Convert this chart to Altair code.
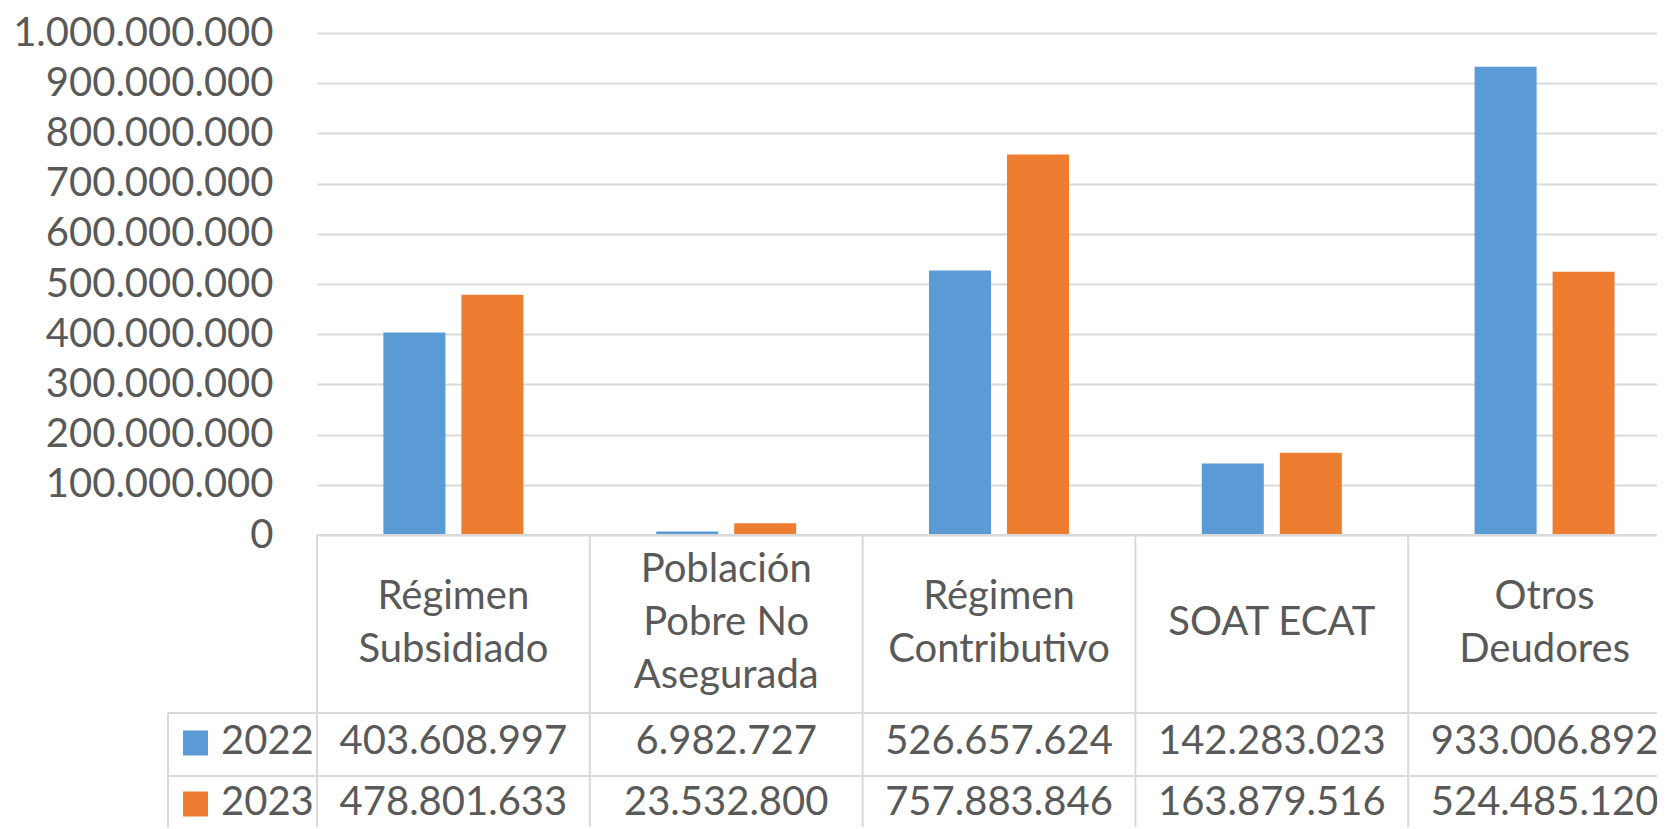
import altair as alt
import pandas as pd

# ---------------- data ----------------
categories = ["Régimen Subsidiado", "Población Pobre No Asegurada",
              "Régimen Contributivo", "SOAT ECAT", "Otros Deudores"]
header_labels = ["Régimen\nSubsidiado", "Población\nPobre No\nAsegurada",
                 "Régimen\nContributivo", "SOAT ECAT", "Otros\nDeudores"]
years = ["2022", "2023"]
values_2022 = [403608997, 6982727, 526657624, 142283023, 933006892]
values_2023 = [478801633, 23532800, 757883846, 163879516, 524485120]
y_ticks = [0, 100000000, 200000000, 300000000, 400000000, 500000000,
           600000000, 700000000, 800000000, 900000000, 1000000000]
colors = ["#5B9BD5", "#ED7D31"]


def fmt(v):
    return f"{v:,}".replace(",", ".")


rows = []
for year, vals in zip(years, [values_2022, values_2023]):
    for c, v in zip(categories, vals):
        rows.append({"categoria": c, "anio": year, "valor": v, "texto": fmt(v)})
df = pd.DataFrame(rows)
hdr = pd.DataFrame({"categoria": categories, "encabezado": header_labels})
hdr["lineas"] = hdr["encabezado"].str.count("\n") + 1
one = pd.DataFrame({"k": [0]})

# ---------------- layout / style ----------------
W, H = 1340, 502
BAND_SPAN = 1364
HEADER_BOTTOM = 680
ROW1_BOTTOM = 743
TABLE_BOTTOM = 794
LEGEND_LEFT = -149
HEADER_Y = 590
LINE_H = 53
ROW_Y = {"2022": 709, "2023": 770}
SWATCH_X = -121.5
LEG_TEXT_X = -96
FONT = "Lato"
GRAY = "#595959"
LINE = "#d9d9d9"
FS = 40

x_scale = alt.Scale(domain=categories, range=[0, BAND_SPAN],
                    paddingInner=0, paddingOuter=0)
color_scale = alt.Scale(domain=years, range=colors)

label_expr = ("replace(replace(replace(format(datum.value, ','), ',', '.'), "
              "',', '.'), ',', '.')")

bars = alt.Chart(df).mark_bar().encode(
    x=alt.X("categoria:N", scale=x_scale, axis=None),
    xOffset=alt.XOffset("anio:N", scale=alt.Scale(domain=years,
                                                   paddingInner=0.205,
                                                   paddingOuter=0.851)),
    y=alt.Y("valor:Q", scale=alt.Scale(domain=[0, 1000000000], nice=False),
            axis=alt.Axis(values=y_ticks, labelExpr=label_expr,
                          labelFont=FONT, labelFontSize=FS, labelColor=GRAY,
                          labelPadding=44, labelLimit=0, domain=False,
                          ticks=False, gridColor=LINE, gridWidth=2,
                          title=None, labelOverlap=False)),
    color=alt.Color("anio:N", scale=color_scale, legend=None),
)

v_rules = alt.Chart(hdr).mark_rule(color=LINE, strokeWidth=2).encode(
    x=alt.X("categoria:N", scale=x_scale, axis=None, bandPosition=0),
    y=alt.value(H),
    y2=alt.value(TABLE_BOTTOM),
)

layers = [bars, v_rules]

layers.append(alt.Chart(one).mark_rule(color=LINE, strokeWidth=2).encode(
    x=alt.value(LEGEND_LEFT), y=alt.value(HEADER_BOTTOM), y2=alt.value(TABLE_BOTTOM)))
layers.append(alt.Chart(one).mark_rule(color=LINE, strokeWidth=2).encode(
    x=alt.value(0), x2=alt.value(W), y=alt.value(H)))
for yy in [HEADER_BOTTOM, ROW1_BOTTOM]:
    layers.append(alt.Chart(one).mark_rule(color=LINE, strokeWidth=2).encode(
        x=alt.value(LEGEND_LEFT), x2=alt.value(W), y=alt.value(yy)))

# header labels, vertically centred in the header row (grouped by line count)
for n in sorted(hdr["lineas"].unique()):
    sub = hdr[hdr["lineas"] == n]
    layers.append(alt.Chart(sub).mark_text(
        font=FONT, fontSize=FS, color=GRAY, lineBreak="\n", lineHeight=LINE_H,
        baseline="middle", align="center").encode(
        x=alt.X("categoria:N", scale=x_scale, axis=None),
        y=alt.value(HEADER_Y - (n - 1) * LINE_H / 2),
        text="encabezado:N",
    ))

for year, col in zip(years, colors):
    sub = df[df["anio"] == year]
    layers.append(alt.Chart(sub).mark_text(
        font=FONT, fontSize=FS, color=GRAY, baseline="middle", align="center").encode(
        x=alt.X("categoria:N", scale=x_scale, axis=None),
        y=alt.value(ROW_Y[year]),
        text="texto:N",
    ))
    leg = pd.DataFrame({"anio": [year]})
    layers.append(alt.Chart(leg).mark_point(
        shape="square", size=625, filled=True, opacity=1, color=col).encode(
        x=alt.value(SWATCH_X), y=alt.value(ROW_Y[year] + 1)))
    layers.append(alt.Chart(leg).mark_text(
        font=FONT, fontSize=FS, color=GRAY, baseline="middle", align="left").encode(
        x=alt.value(LEG_TEXT_X), y=alt.value(ROW_Y[year]), text="anio:N"))

chart = alt.layer(*layers).properties(
    width=W, height=H,
    autosize=alt.AutoSizeParams(type="none"),
    padding={"left": 309, "top": 25, "right": 0, "bottom": 292},
    background="white",
).configure_view(stroke=None)

chart.save("out.html", embed_options={"renderer": "svg", "actions": False})
